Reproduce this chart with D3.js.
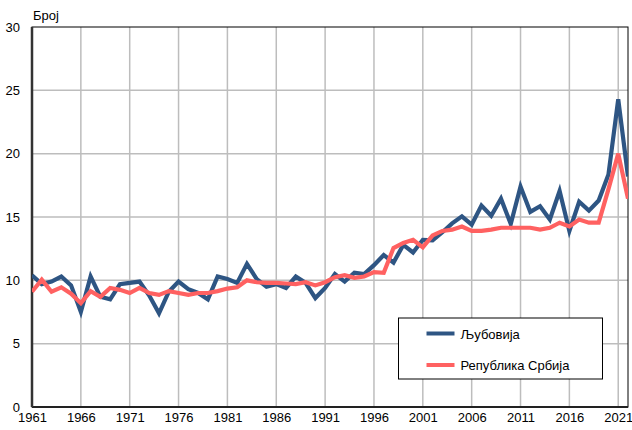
<!DOCTYPE html>
<html>
<head>
<meta charset="utf-8">
<script src="https://cdn.jsdelivr.net/npm/d3@7"></script>
<style>
  body { margin: 0; background: #fff; }
  svg { display: block; font-family: "Liberation Sans", Arial, sans-serif; }
</style>
</head>
<body>
<div id="chart"></div>
<script>
const years = d3.range(1961, 2023);

const ljubovija = [
  10.4, 9.7, 9.9, 10.3, 9.6, 7.5, 10.3, 8.7, 8.5, 9.7,
  9.8, 9.9, 8.8, 7.4, 9.1, 9.9, 9.3, 9.0, 8.5, 10.3,
  10.1, 9.8, 11.3, 10.1, 9.5, 9.7, 9.4, 10.3, 9.8, 8.6,
  9.4, 10.5, 9.9, 10.6, 10.5, 11.2, 12.0, 11.4, 12.8, 12.2,
  13.2, 13.15, 13.8, 14.5, 15.05, 14.4, 15.9, 15.1, 16.45, 14.45,
  17.4, 15.4, 15.85, 14.8, 17.05, 13.9, 16.2, 15.5, 16.3, 18.35,
  24.3, 18.2
];

const srbija = [
  9.1, 10.05, 9.1, 9.45, 8.95, 8.2, 9.15, 8.7, 9.4, 9.25,
  9.0, 9.4, 9.0, 8.85, 9.15, 9.0, 8.85, 9.0, 9.0, 9.15,
  9.35, 9.45, 10.0, 9.85, 9.8, 9.8, 9.75, 9.7, 9.85, 9.6,
  9.85, 10.25, 10.4, 10.2, 10.3, 10.65, 10.6, 12.55, 12.95, 13.2,
  12.6, 13.55, 13.9, 14.0, 14.25, 13.9, 13.9, 14.0, 14.15, 14.15,
  14.15, 14.15, 14.0, 14.15, 14.55, 14.25, 14.8, 14.55, 14.55, 17.2,
  20.0, 16.45
];

const seriesNames = ["Љубовија", "Република Србија"];
const seriesColors = ["#2e5583", "#ff6161"];
const yTicks = [0, 5, 10, 15, 20, 25, 30];
const xTicks = d3.range(1961, 2022, 5);

const W = 632, H = 430;
const margin = {top: 27, right: 4, bottom: 23, left: 32};
const width = W - margin.left - margin.right,
      height = H - margin.top - margin.bottom;

const svg = d3.select("#chart").append("svg")
  .attr("width", W).attr("height", H);

const g = svg.append("g")
  .attr("transform", "translate(" + margin.left + "," + margin.top + ")");

const x = d3.scaleLinear().domain([1961, 2022]).range([0, width]);
const y = d3.scaleLinear().domain([0, 30]).range([height, 0]);

// grid
g.selectAll(".hgrid").data(yTicks.slice(1, -1)).enter().append("line")
  .attr("x1", 0).attr("x2", width)
  .attr("y1", d => y(d)).attr("y2", d => y(d))
  .attr("stroke", "#bdbdbd").attr("stroke-width", 1.5);

g.selectAll(".vgrid").data(xTicks.slice(1)).enter().append("line")
  .attr("x1", d => x(d)).attr("x2", d => x(d))
  .attr("y1", 0).attr("y2", height)
  .attr("stroke", "#bdbdbd").attr("stroke-width", 1.5);

// frame
g.append("rect")
  .attr("x", 0).attr("y", 0).attr("width", width).attr("height", height)
  .attr("fill", "none").attr("stroke", "#000").attr("stroke-width", 1);
g.append("line")
  .attr("x1", 0).attr("x2", width).attr("y1", height).attr("y2", height)
  .attr("stroke", "#222").attr("stroke-width", 2);
g.append("line")
  .attr("x1", 0).attr("x2", 0).attr("y1", 0).attr("y2", height)
  .attr("stroke", "#333").attr("stroke-width", 2.5);

// axes labels
const yAxis = g.append("g").call(d3.axisLeft(y).tickValues(yTicks).tickSize(0).tickPadding(12));
yAxis.select(".domain").remove();
yAxis.selectAll("text").attr("font-size", 13).attr("fill", "#000")
  .attr("font-family", "Liberation Sans, Arial, sans-serif");

const xAxis = g.append("g").attr("transform", "translate(0," + height + ")")
  .call(d3.axisBottom(x).tickValues(xTicks).tickFormat(d3.format("d")).tickSize(0).tickPadding(6));
xAxis.select(".domain").remove();
xAxis.selectAll("text").attr("font-size", 13).attr("fill", "#000")
  .attr("font-family", "Liberation Sans, Arial, sans-serif");

svg.append("text")
  .attr("x", 33).attr("y", 20)
  .attr("font-size", 13)
  .text("Број");

// lines (red one on top, as in the original)
svg.append("clipPath").attr("id", "plotclip")
  .append("rect").attr("x", 0).attr("y", -10).attr("width", width).attr("height", height + 10);

const line = d3.line()
  .x((d, i) => x(years[i]))
  .y(d => y(d));

[ljubovija, srbija].forEach((data, k) => {
  g.append("path")
    .datum(data)
    .attr("clip-path", "url(#plotclip)")
    .attr("fill", "none")
    .attr("stroke", seriesColors[k])
    .attr("stroke-width", 4.2)
    .attr("stroke-linejoin", "miter")
    .attr("d", line);
});

// legend
const legend = svg.append("g").attr("transform", "translate(398.5,318)");
legend.append("rect")
  .attr("width", 204).attr("height", 61)
  .attr("fill", "#fff").attr("stroke", "#000").attr("stroke-width", 1);

seriesNames.forEach((name, i) => {
  const row = legend.append("g").attr("transform", "translate(0," + (15.5 + i * 31.5) + ")");
  row.append("line")
    .attr("x1", 28).attr("x2", 56)
    .attr("stroke", seriesColors[i]).attr("stroke-width", 4);
  row.append("text")
    .attr("x", 62).attr("y", 5)
    .attr("font-size", 13)
    .text(name);
});
</script>
</body>
</html>
